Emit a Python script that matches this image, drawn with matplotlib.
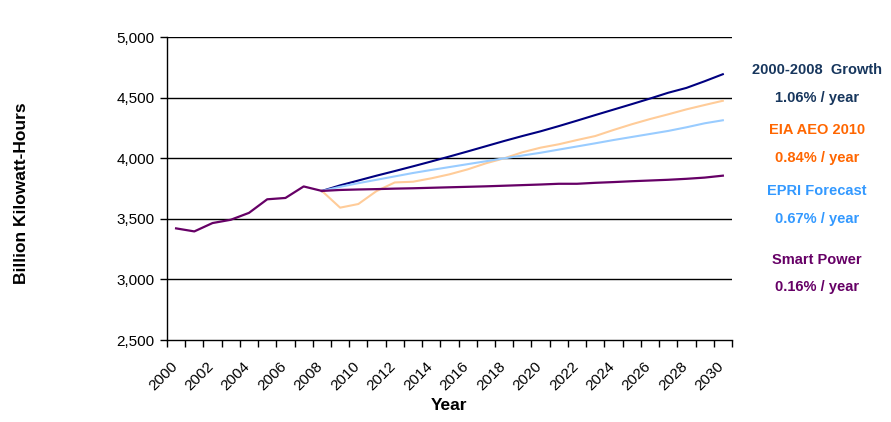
import numpy as np
import matplotlib.pyplot as plt
import matplotlib.transforms as mtransforms
from matplotlib.ticker import FuncFormatter

plt.rcParams['font.family'] = ['Liberation Sans', 'DejaVu Sans']

years = list(range(2000, 2031))
hist_years = list(range(2000, 2009))
fc_years = list(range(2008, 2031))

# actual consumption 2000-2008
history = [3421, 3396, 3465, 3492, 3549, 3661, 3672, 3767, 3730]

# projections 2008-2030
growth = [3730, 3776, 3816, 3856, 3894, 3933, 3973, 4014, 4056, 4099, 4142,
          4183, 4222, 4265, 4310, 4356, 4401, 4446, 4492, 4540, 4580, 4635, 4693]
eia = [3730, 3592, 3622, 3729, 3800, 3806, 3834, 3867, 3908, 3958, 3999,
       4049, 4087, 4115, 4150, 4183, 4233, 4280, 4323, 4362, 4403, 4439, 4474]
epri = [3730, 3764, 3794, 3822, 3850, 3878, 3903, 3927, 3951, 3975, 3999,
        4022, 4045, 4071, 4097, 4123, 4150, 4175, 4200, 4225, 4255, 4288, 4313]
smart = [3730, 3738, 3742, 3745, 3749, 3752, 3756, 3760, 3764, 3768, 3773,
         3778, 3783, 3789, 3789, 3797, 3803, 3810, 3816, 3822, 3830, 3840, 3856]

notes = [
    ('2000-2008  Growth', '1.06% / year', '#17365D'),
    ('EIA AEO 2010', '0.84% / year', '#FF6600'),
    ('EPRI Forecast', '0.67% / year', '#3399FF'),
    ('Smart Power', '0.16% / year', '#660066'),
]
note_y = [(70, 98), (130, 158), (191, 219), (260, 287)]

fig = plt.figure(figsize=(8.91, 4.22), dpi=100)
ax = fig.add_axes([0.1874, 0.1943, 0.6341, 0.718])

def pos(ys):
    return [y - 2000 for y in ys]

ax.plot(pos(fc_years), growth, color='#000080', lw=1.5, zorder=3)
ax.plot(pos(fc_years), eia, color='#FFCC99', lw=1.5, zorder=3)
ax.plot(pos(fc_years), epri, color='#99CCFF', lw=1.5, zorder=3)
ax.plot(pos(fc_years), smart, color='#660066', lw=1.6, zorder=4)
ax.plot(pos(hist_years), history, color='#660066', lw=1.6, zorder=4)

ax.set_xlim(-0.5, len(years) - 0.5)
ax.set_ylim(2500, 5000)
ax.set_yticks(np.arange(2500, 5001, 500))
ax.yaxis.set_major_formatter(FuncFormatter(lambda v, p: '{:,.0f}'.format(v)))
for v in range(3000, 5001, 500):
    ax.axhline(v, color='black', lw=1, zorder=1)

# category axis: ticks between categories, labels on every other year
ax.set_xticks(np.arange(-0.5, len(years), 1))
ax.set_xticklabels([])
ax.tick_params(axis='x', length=5, width=1, direction='out')
ax.tick_params(axis='y', length=5, width=1, labelsize=11, pad=4)

off = mtransforms.ScaledTranslation(-6 / 100, -19 / 100, fig.dpi_scale_trans)
for y in years[::2]:
    ax.text(y - 2000, 0, str(y), transform=ax.get_xaxis_transform() + off,
            rotation=45, ha='right', va='top', rotation_mode='anchor',
            fontsize=11)

for s in ['top', 'right']:
    ax.spines[s].set_visible(False)
for s in ['left', 'bottom']:
    ax.spines[s].set_linewidth(1)
    ax.spines[s].set_color('black')

fig.text(22 / 891, 1 - 193 / 422, 'Billion Kilowatt-Hours', rotation=90,
         ha='center', va='center', fontsize=12.5, fontweight='bold')
fig.text(449 / 891, 1 - 405 / 422, 'Year', ha='center', va='center',
         fontsize=12.5, fontweight='bold')

for (title, rate, col), (y1, y2) in zip(notes, note_y):
    fig.text(817 / 891, 1 - y1 / 422, title, ha='center', va='center',
             fontsize=10.5, fontweight='bold', color=col)
    fig.text(817 / 891, 1 - y2 / 422, rate, ha='center', va='center',
             fontsize=10.5, fontweight='bold', color=col)

fig.savefig('out.png', dpi=100)
